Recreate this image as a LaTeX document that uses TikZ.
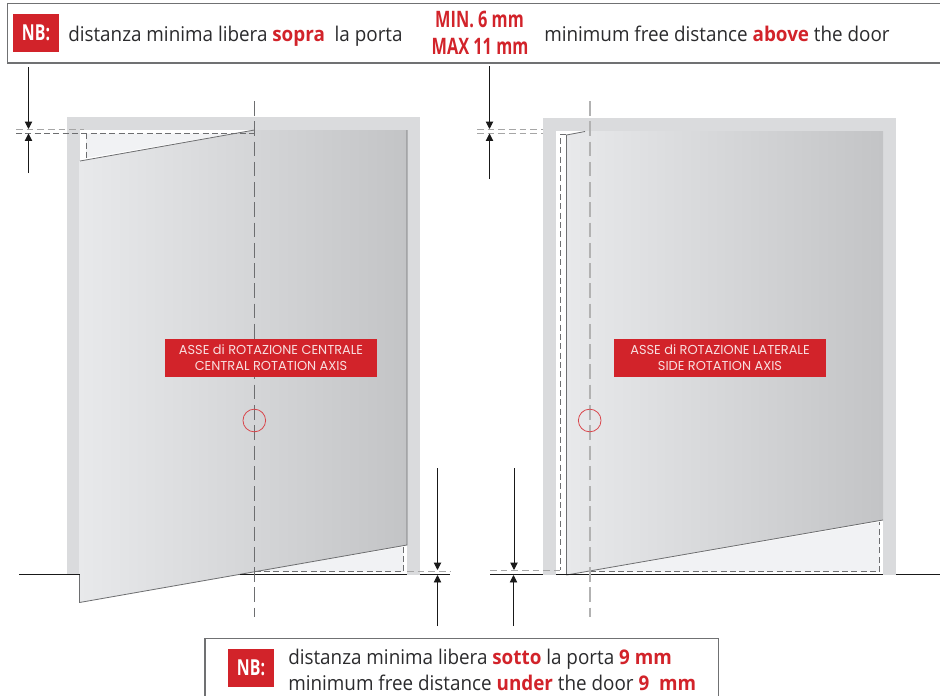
\documentclass[tikz,border=0pt]{standalone}
\usepackage{fontspec}
\usetikzlibrary{arrows.meta}
\setmainfont{Open Sans}
\newfontfamily\bodyfont[FakeStretch=0.93]{Open Sans}
\newfontfamily\condfont[FakeStretch=0.72]{Open Sans}
\newfontfamily\gothfont{Poppins}
\definecolor{nbred}{HTML}{D2232A}
\definecolor{framegray}{HTML}{DADBDD}
\definecolor{palefill}{HTML}{F1F2F4}
\definecolor{doorL}{HTML}{E8E9EB}
\definecolor{doorR}{HTML}{C3C4C6}
\definecolor{inktext}{HTML}{2B2B2D}
\definecolor{boxline}{HTML}{707173}
\definecolor{doorline}{HTML}{6D6E70}
\newcommand{\rd}[1]{{\bfseries\color{nbred}#1}}
\tikzset{
  x=0.75pt,y=-0.75pt,
  frame/.style={fill=framegray,draw=none},
  pale/.style={fill=palefill,draw=none},
  doorshade/.style={left color=doorL,right color=doorR,draw=none},
  dooredge/.style={draw=doorline,line width=0.6pt},
  dashdark/.style={draw=doorline,line width=0.6pt,dash pattern=on 4.5pt off 2.5pt},
  dashlight/.style={draw=gray!70,line width=0.7pt,dash pattern=on 5pt off 3pt},
  axisdark/.style={draw=doorline,line width=0.5pt,dash pattern=on 11pt off 4.2pt},
  axislight/.style={draw=black!30,line width=1pt,dash pattern=on 11pt off 4.2pt},
  floorline/.style={draw=black!90,line width=0.8pt},
  dim/.style={draw=black!90,line width=0.7pt,-{Triangle[length=5.6pt,width=5.6pt]}},
  boxborder/.style={draw=boxline,line width=0.8pt},
  nbbox/.style={fill=nbred,text=white,minimum width=34.5pt,minimum height=28.5pt,inner sep=0pt,font=\condfont\bfseries\fontsize{16.5}{16.5}\selectfont},
  axislabel/.style={fill=nbred,text=white!85!nbred,minimum width=159pt,minimum height=28.5pt,inner sep=0pt,align=center,font=\gothfont\fontsize{9.7}{12}\selectfont},
  note/.style={anchor=base west,inner sep=0pt,text=inktext,font=\bodyfont\fontsize{15.2}{15.2}\selectfont},
  measure/.style={anchor=base,inner sep=0pt,text=nbred,font=\condfont\bfseries\fontsize{17}{17}\selectfont},
  ring/.style={circle,draw=nbred!85,line width=0.6pt,minimum size=17pt,inner sep=0pt},
}
\begin{document}
\begin{tikzpicture}
\useasboundingbox (0,0) rectangle (940,696);
\clip (0,0) rectangle (940,696);
\fill[white] (0,0) rectangle (940,696);

% ---------- coordinates for connectors
\coordinate (la1) at (28.5,67);   \coordinate (la1e) at (28.5,129);
\coordinate (la2) at (28.5,173);  \coordinate (la2e) at (28.5,133.5);
\coordinate (la3) at (437.5,468); \coordinate (la3e) at (437.5,570);
\coordinate (la4) at (437.5,626); \coordinate (la4e) at (437.5,575);
\coordinate (ra1) at (489.5,66);  \coordinate (ra1e) at (489.5,129);
\coordinate (ra2) at (489.5,179); \coordinate (ra2e) at (489.5,133.5);
\coordinate (ra3) at (514,468);   \coordinate (ra3e) at (514,570);
\coordinate (ra4) at (513.5,626); \coordinate (ra4e) at (513.5,575);
\coordinate (lax1) at (254.5,101); \coordinate (lax2) at (254.5,617);
\coordinate (rax1) at (590,101);   \coordinate (rax2) at (590,617);

% ---------- left door
\fill[frame] (67,117) rectangle (419.5,130);
\fill[frame] (67,130) rectangle (80,574);
\fill[frame] (407,130) rectangle (420,575);
\fill[pale] (86,133.5) -- (232,133.5) -- (86,158) -- cycle;
\fill[pale] (254,571.5) -- (403.5,547) -- (403.5,571.5) -- cycle;
\shade[doorshade] (79.5,161) -- (254.5,130) -- (407,130) -- (407,545) -- (79.5,602.5) -- cycle;
\draw[dooredge] (80,161) -- (254.5,130);
\draw[dooredge] (407,130) -- (407,545) -- (79.5,602.5) -- (79.5,574);
\draw[dashlight] (16,129.7) -- (84,129.7);
\draw[dashdark] (16,133.3) -- (254,133.3);
\draw[dashdark] (86.5,133.3) -- (86.5,158);
\draw[dashdark] (254.5,571.5) -- (403.5,571.5) -- (403.5,546);
\draw[dashlight] (407,571.5) -- (451,571.5);
\draw[floorline] (19,574.5) -- (80,574.5);
\draw[floorline] (240,574.5) -- (407,574.5);
\draw[floorline] (420,574.5) -- (450,574.5);
\draw[axisdark] (lax1) -- (lax2);
\draw[dim] (la1) -- (la1e);
\draw[dim] (la2) -- (la2e);
\draw[dim] (la3) -- (la3e);
\draw[dim] (la4) -- (la4e);

% ---------- right door
\fill[frame] (543,118) rectangle (896,131);
\fill[frame] (543,131) rectangle (556,575);
\fill[frame] (883,131) rectangle (896,575);
\fill[pale] (590,571.5) -- (879.7,522) -- (879.7,571.5) -- cycle;
\shade[doorshade] (566.5,135) -- (585,131) -- (883,131) -- (883,520) -- (566.5,575) -- cycle;
\draw[dooredge] (566.5,575) -- (566.5,135) -- (585,131.5);
\draw[dooredge] (566.5,575) -- (883,520);
\draw[dashlight] (477,129.7) -- (543,129.7);
\draw[dashlight] (477,133.3) -- (543,133.3);
\draw[dashdark] (566,134) -- (560.7,134) -- (560.7,570);
\draw[dashlight] (490,570) -- (560,570);
\draw[dashdark] (590,571.5) -- (879.7,571.5) -- (879.7,522);
\draw[floorline] (490,574.5) -- (543,574.5);
\draw[floorline] (556,574.5) -- (883,574.5);
\draw[floorline] (896,574.5) -- (940,574.5);
\draw[axislight] (rax1) -- (rax2);
\draw[dim] (ra1) -- (ra1e);
\draw[dim] (ra2) -- (ra2e);
\draw[dim] (ra3) -- (ra3e);
\draw[dim] (ra4) -- (ra4e);

% ---------- axis labels and rings
\node[axislabel] (lablL) at (271,358) {ASSE di ROTAZIONE CENTRALE\\CENTRAL ROTATION AXIS};
\node[axislabel] (lablR) at (720,358) {ASSE di ROTAZIONE LATERALE\\SIDE ROTATION AXIS};
\node[ring] (ringL) at (254.3,420.5) {};
\node[ring] (ringR) at (589.7,420.5) {};

% ---------- top note
\draw[boxborder] (945,3.5) -- (7.5,3.5) -- (7.5,63) -- (945,63);
\node[nbbox] (nbT) at (36,33) {NB:};
\node[note] (noteT1) at (68,41) {distanza minima libera \rd{sopra}\ \ la porta};
\node[measure] (minT) at (479.5,27) {MIN. 6 mm};
\node[measure] (maxT) at (480,55) {MAX 11 mm};
\node[note] (noteT2) at (544,41) {minimum free distance \rd{above} the door};

% ---------- bottom note
\draw[boxborder] (205,700) -- (205,638.5) -- (718.5,638.5) -- (718.5,700);
\node[nbbox] (nbB) at (251,668) {NB:};
\node[note] (noteB1) at (288,664.5) {distanza minima libera \rd{sotto} la porta \rd{9 mm}};
\node[note] (noteB2) at (288,690) {minimum free distance \rd{under} the door \rd{9\ \ mm}};
\end{tikzpicture}
\end{document}
